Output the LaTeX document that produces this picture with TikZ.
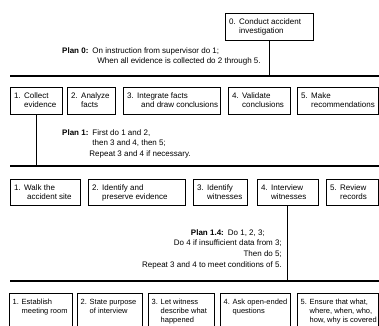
\documentclass[tikz,border=0pt]{standalone}
\usepackage{fontspec}
\setmainfont{Liberation Sans}
% number column of a task box, so that wrapped lines hang under the text
\newlength\numwidth
\setlength\numwidth{10pt}
\newcommand\tasknum[1]{\makebox[\numwidth][l]{#1}}
% \taskbox[text style]{name}{x}{y}{width}{height}{number}{lines}
\newcommand\taskbox[8][]{%
  \node[taskframe, minimum width=#5pt, minimum height=#6pt] (#2) at (#3,#4) {};
  \node[tasktext, #1] (#2-text) at (#2.north west)
    {\tasknum{#7}\begin{tabular}[t]{@{}l@{}}#8\end{tabular}};}
\begin{document}
\begin{tikzpicture}[x=1pt, y=-1pt,
  taskframe/.style={draw, line width=0.8pt, inner sep=0pt, anchor=north west},
  tasktext/.style={anchor=north west, inner xsep=4pt, inner ysep=4.5pt,
    font=\fontsize{8}{9.5}\selectfont},
  subtext/.style={inner xsep=3.5pt, font=\fontsize{7.5}{9.2}\selectfont\setlength\numwidth{9pt}},
  rule/.style={line width=1.4pt},
  link/.style={line width=0.9pt},
  plantext/.style={inner sep=0pt, font=\fontsize{8}{10.8}\selectfont}]
\useasboundingbox (0,0) rectangle (379,325);
\clip (0,0) rectangle (379,325);

% top task
\taskbox{t0}{225}{13}{88}{27}{0.}{Conduct accident\\investigation}
\coordinate (r1w) at (10,76);
\coordinate (r1e) at (379,76);
\draw[rule] (r1w) -- (r1e);
\draw[link] (t0.south) -- (t0.south |- r1w);
\node[plantext, anchor=base west] (plan0) at (62,53)
  {\begin{tabular}[t]{@{}l@{\hspace{4pt}}l@{}}
   \textbf{Plan 0:} & On instruction from supervisor do 1;\\
   & \hspace{5pt}When all evidence is collected do 2 through 5.
   \end{tabular}};

% level 1
\taskbox{t1}{10}{87}{52}{27}{1.}{Collect\\evidence}
\taskbox{t2}{67}{87}{48}{27}{2.}{Analyze\\facts}
\taskbox{t3}{123}{87}{97}{27}{3.}{Integrate facts\\\hspace{4pt}and draw conclusions}
\taskbox{t4}{228}{87}{62}{27}{4.}{Validate\\conclusions}
\taskbox{t5}{297}{87}{80.5}{27}{5.}{Make\\recommendations}

\coordinate (r2w) at (10,166);
\coordinate (r2e) at (379,166);
\draw[rule] (r2w) -- (r2e);
\draw[link] (t1.south) -- (t1.south |- r2w);
\node[plantext, anchor=base west] (plan1) at (62,135)
  {\begin{tabular}[t]{@{}l@{\hspace{4pt}}l@{}}
   \textbf{Plan 1:} & First do 1 and 2,\\
   & then 3 and 4, then 5;\\
   & \hspace{-3pt}Repeat 3 and 4 if necessary.
   \end{tabular}};

% level 2
\taskbox{t11}{10}{179}{70}{26}{1.}{Walk the\\\hspace{3pt}accident site}
\taskbox{t12}{88}{179}{97}{26}{2.}{Identify and\\preserve evidence}
\taskbox{t13}{193}{179}{54}{26}{3.}{Identify\\witnesses}
\taskbox{t14}{257}{179}{61}{26}{4.}{Interview\\witnesses}
\taskbox{t15}{326}{179}{51.5}{26}{5.}{Review\\records}

\coordinate (r3w) at (10,281);
\coordinate (r3e) at (379,281);
\draw[rule] (r3w) -- (r3e);
\draw[link] (t14.south) -- (t14.south |- r3w);
\node[plantext, anchor=base east] (plan14) at (282,235)
  {\begin{tabular}[t]{@{}r@{}}
   \textbf{Plan 1.4:}\enspace Do 1, 2, 3;\kern17pt\\
   Do 4 if insufficient data from 3;\\
   Then do 5;\\
   Repeat 3 and 4 to meet conditions of 5.
   \end{tabular}};

% level 3
\taskbox[subtext]{t141}{9}{293}{63}{40}{1.}{Establish\\meeting room}
\taskbox[subtext]{t142}{77}{293}{65}{40}{2.}{State purpose\\of interview}
\taskbox[subtext]{t143}{148}{293}{66}{40}{3.}{Let witness\\describe what\\happened}
\taskbox[subtext]{t144}{220}{293}{70}{40}{4.}{Ask open-ended\\questions}
\taskbox[subtext]{t145}{297}{293}{81}{40}{5.}{Ensure that what,\\where, when, who,\\how, why is covered}
\end{tikzpicture}
\end{document}
